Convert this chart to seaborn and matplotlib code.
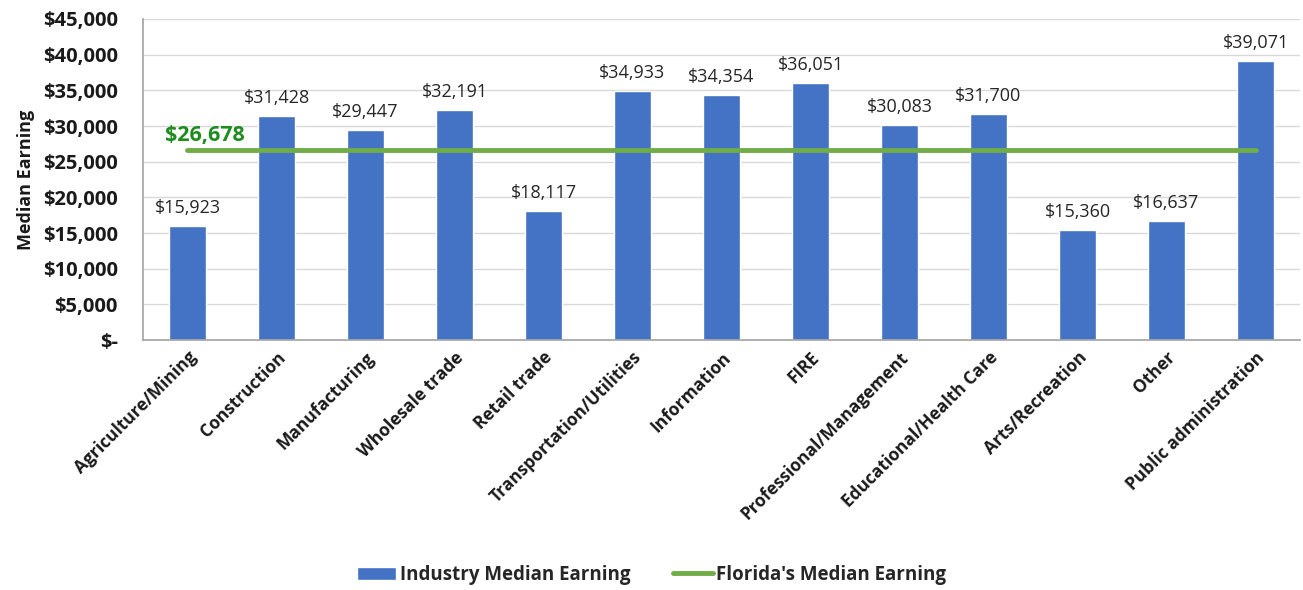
import numpy as np
import pandas as pd
import seaborn as sns
import matplotlib.pyplot as plt
from matplotlib.ticker import FuncFormatter
from matplotlib.patches import Patch
from matplotlib.lines import Line2D

industries = ["Agriculture/Mining", "Construction", "Manufacturing", "Wholesale trade",
              "Retail trade", "Transportation/Utilities", "Information", "FIRE",
              "Professional/Management", "Educational/Health Care", "Arts/Recreation",
              "Other", "Public administration"]
median_earning = [15923, 31428, 29447, 32191, 18117, 34933, 34354, 36051,
                  30083, 31700, 15360, 16637, 39071]
florida_median = 26678

df = pd.DataFrame({"Industry": industries, "Earning": median_earning})

sns.set_theme(style="white")
plt.rcParams["font.family"] = ["Open Sans", "DejaVu Sans"]

fig = plt.figure(figsize=(13.03, 5.9), dpi=100)
ax = fig.add_axes([0.1097, 0.4237, 0.888, 0.5441])

sns.barplot(data=df, x="Industry", y="Earning", color="#4472C4", saturation=1,
            width=0.42, ax=ax, zorder=2)
sns.lineplot(x=np.arange(len(industries)), y=[florida_median] * len(industries),
             color="#70AD47", linewidth=3.5, ax=ax, zorder=3)

# value labels
for i, v in enumerate(median_earning):
    ax.text(i, v + 1300, f"${v:,}", ha="center", va="bottom", fontsize=13, color="#262626")
ax.text(-0.25, florida_median + 500, f"${florida_median:,}", ha="left", va="bottom",
        fontsize=15.5, fontweight="bold", color="#1E8C1E")

ax.set_xlim(-0.5, len(industries) - 0.5)
ax.set_ylim(0, 45000)
ax.set_yticks(np.arange(0, 45001, 5000))
ax.yaxis.set_major_formatter(FuncFormatter(lambda y, _: "$-" if y == 0 else f"${y:,.0f}"))
ax.grid(axis="y", color="#D9D9D9", linewidth=1, zorder=0)
ax.set_axisbelow(True)
for s in ["top", "right"]:
    ax.spines[s].set_visible(False)
for s in ["left", "bottom"]:
    ax.spines[s].set_color("#A6A6A6")
ax.tick_params(axis="y", length=0, labelsize=14.5, pad=18)
ax.tick_params(axis="x", length=0, labelsize=12.5, pad=6)
for lab in ax.get_yticklabels():
    lab.set_fontweight("bold")
    lab.set_color("#1a1a1a")
ax.set_xticks(np.arange(len(industries)))
ax.set_xticklabels(industries, rotation=45, ha="right", rotation_mode="anchor",
                   fontweight="bold", color="#1a1a1a")
ax.set_xlabel("")
ax.set_ylabel("Median Earning", fontsize=13, fontweight="bold", labelpad=6, color="#1a1a1a")

handles = [Patch(facecolor="#4472C4", label="Industry Median Earning"),
           Line2D([0], [0], color="#70AD47", linewidth=3.5, label="Florida's Median Earning")]
fig.legend(handles=handles, loc="center", bbox_to_anchor=(0.5, 0.026), ncol=2,
           frameon=False, handlelength=2.1, handletextpad=0.2, columnspacing=2.3,
           prop={"weight": "bold", "size": 13.5})

fig.savefig("out.png", dpi=100)
